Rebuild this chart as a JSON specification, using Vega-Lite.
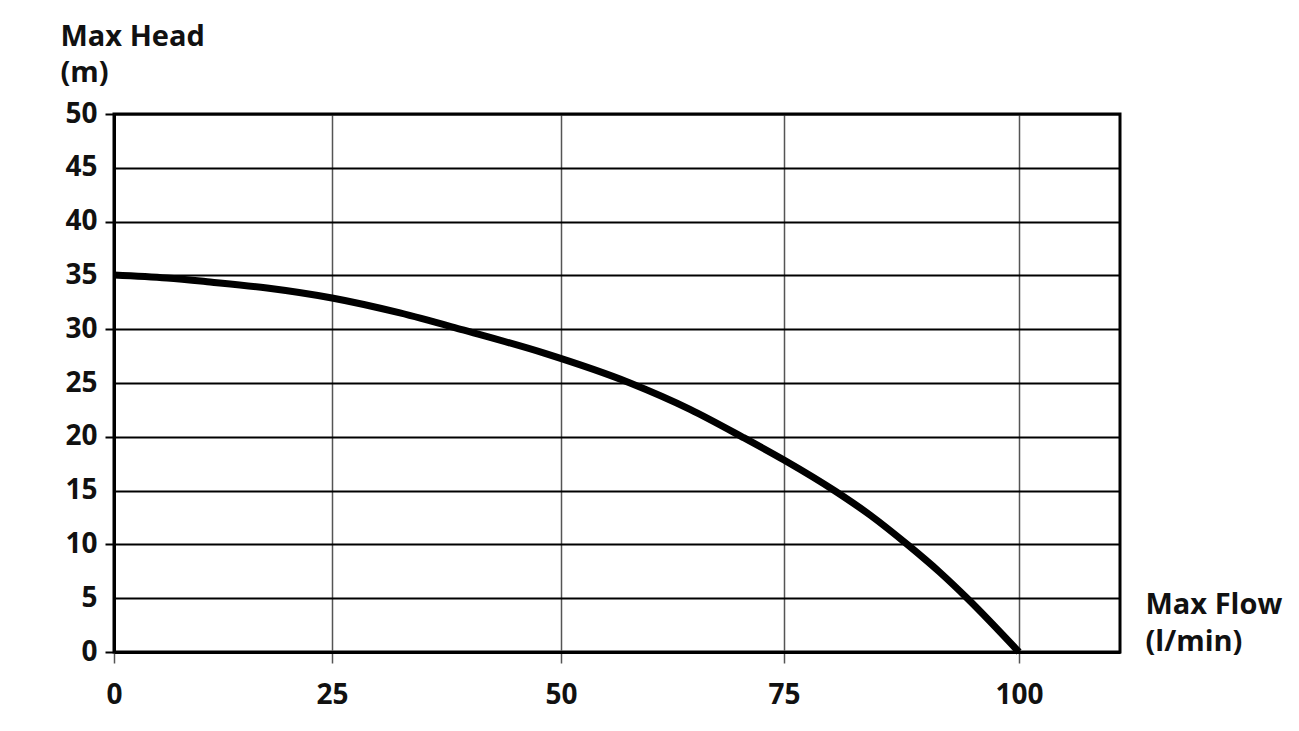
{
  "$schema": "https://vega.github.io/schema/vega-lite/v6.json",
  "width": 1006,
  "height": 538,
  "autosize": {"type": "none"},
  "padding": {"left": 114, "top": 114, "right": 179, "bottom": 79},
  "background": "white",
  "config": {"view": {"stroke": "#000", "strokeWidth": 3}, "font": "Open Sans"},
  "data": {
    "values": [
      {"flow": 0, "head": 35.04},
      {"flow": 6.08, "head": 34.76},
      {"flow": 11.01, "head": 34.39},
      {"flow": 17.55, "head": 33.83},
      {"flow": 25, "head": 32.9},
      {"flow": 32.42, "head": 31.51},
      {"flow": 39.3, "head": 29.93},
      {"flow": 48.25, "head": 27.75},
      {"flow": 57.74, "head": 25.0},
      {"flow": 64.46, "head": 22.55},
      {"flow": 70.29, "head": 20.0},
      {"flow": 75, "head": 17.84},
      {"flow": 80.43, "head": 14.96},
      {"flow": 84.15, "head": 12.73},
      {"flow": 88.19, "head": 9.94},
      {"flow": 91.6, "head": 7.39},
      {"flow": 94.57, "head": 4.93},
      {"flow": 100, "head": 0}
    ]
  },
  "mark": {"type": "line", "color": "#000", "strokeWidth": 7, "interpolate": "monotone", "strokeCap": "butt"},
  "encoding": {
    "x": {
      "field": "flow",
      "type": "quantitative",
      "scale": {"domain": [0, 25, 50, 75, 100, 111.2], "range": [0, 218, 447, 670, 905, 1006], "nice": false, "zero": false},
      "axis": {
        "values": [0, 25, 50, 75, 100],
        "labelFlush": false,
        "grid": true,
        "gridColor": "#555",
        "gridWidth": 1.5,
        "tickColor": "#555",
        "tickWidth": 1.5,
        "tickSize": 11,
        "domainColor": "#000",
        "domainWidth": 3,
        "labelFont": "Open Sans",
        "labelFontWeight": "bold",
        "labelFontSize": 28,
        "labelColor": "#111",
        "labelPadding": 18,
        "title": ["Max Flow", "(l/min)"],
        "titleFont": "Open Sans",
        "titleFontSize": 29,
        "titleFontWeight": "bold",
        "titleColor": "#111",
        "titleX": 1031,
        "titleY": -39,
        "titleAlign": "left",
        "titleAnchor": "start",
        "titleBaseline": "alphabetic",
        "titleLineHeight": 37
      }
    },
    "y": {
      "field": "head",
      "type": "quantitative",
      "scale": {"domain": [0, 50], "nice": false},
      "axis": {
        "values": [0, 5, 10, 15, 20, 25, 30, 35, 40, 45, 50],
        "labelFlush": false,
        "grid": true,
        "gridColor": "#000",
        "gridWidth": 2,
        "tickColor": {"condition": {"test": "datum.value % 10 === 0", "value": "#000"}, "value": "transparent"},
        "tickWidth": 2,
        "tickSize": 9,
        "domainColor": "#000",
        "domainWidth": 3,
        "labelFont": "Open Sans",
        "labelFontWeight": "bold",
        "labelFontSize": 28,
        "labelColor": "#111",
        "labelPadding": 8,
        "title": ["Max Head", "(m)"],
        "titleFont": "Open Sans",
        "titleFontSize": 29,
        "titleFontWeight": "bold",
        "titleColor": "#111",
        "titleAngle": 0,
        "titleX": -54,
        "titleY": -69,
        "titleAlign": "left",
        "titleAnchor": "start",
        "titleBaseline": "alphabetic",
        "titleLineHeight": 36
      }
    }
  }
}
